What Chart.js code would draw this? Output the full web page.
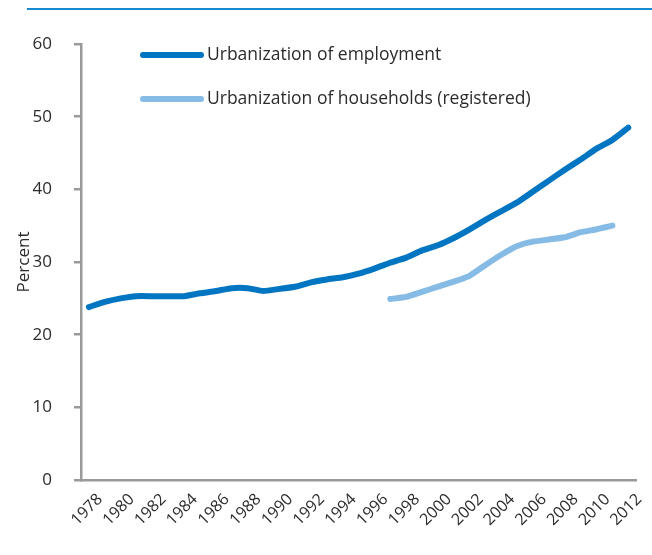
<!DOCTYPE html>
<html>
<head>
<meta charset="utf-8">
<script src="https://cdn.jsdelivr.net/npm/chart.js@4/dist/chart.umd.min.js"></script>
<style>
  html, body { margin: 0; padding: 0; background: #fff; }
  #wrap { width: 652px; height: 555px; position: relative; }
</style>
</head>
<body>
<div id="wrap"><canvas id="c" width="652" height="555"></canvas></div>
<script>
const years = ["1978","1979","1980","1981","1982","1983","1984","1985","1986","1987","1988","1989","1990","1991","1992","1993","1994","1995","1996","1997","1998","1999","2000","2001","2002","2003","2004","2005","2006","2007","2008","2009","2010","2011","2012"];
const employment = [23.8,24.5,25.0,25.3,25.3,25.3,25.3,25.7,26.0,26.4,26.4,26.0,26.3,26.6,27.2,27.6,27.9,28.4,29.1,29.9,30.6,31.6,32.3,33.3,34.5,35.8,37.0,38.2,39.7,41.2,42.7,44.1,45.6,46.8,48.5];
const households = [null,null,null,null,null,null,null,null,null,null,null,null,null,null,null,null,null,null,null,24.9,25.2,25.9,26.6,27.3,28.1,29.6,31.0,32.2,32.8,33.1,33.4,34.1,34.5,35.0,null];
const seriesNames = ["Urbanization of employment", "Urbanization of households (registered)"];
const yTicks = [0,10,20,30,40,50,60];
const yTitle = "Percent";

const FONT = "'Open Sans', sans-serif";
const darkBlue = "rgb(0,117,194)";
const lightBlue = "rgb(133,187,229)";
const axisGray = "#9a9a9c";
const textColor = "#2b2b2b";

const decor = {
  id: 'decor',
  afterDraw(chart) {
    const ctx = chart.ctx;
    ctx.save();
    ctx.strokeStyle = "rgb(24,138,210)";
    ctx.lineWidth = 2;
    ctx.beginPath();
    ctx.moveTo(27, 9);
    ctx.lineTo(652, 9);
    ctx.stroke();
    const items = chart.data.datasets;
    const ys = [55, 99];
    items.forEach((ds, i) => {
      ctx.strokeStyle = ds.borderColor;
      ctx.lineWidth = 6;
      ctx.lineCap = 'round';
      ctx.beginPath();
      ctx.moveTo(143, ys[i]);
      ctx.lineTo(201, ys[i]);
      ctx.stroke();
      ctx.fillStyle = textColor;
      ctx.font = "17.5px " + FONT;
      ctx.textBaseline = 'middle';
      ctx.textAlign = 'left';
      ctx.fillText(ds.label, 207, ys[i]);
    });
    ctx.restore();
  }
};

new Chart(document.getElementById('c'), {
  type: 'line',
  data: {
    labels: years,
    datasets: [
      { label: seriesNames[0], data: employment, borderColor: darkBlue, backgroundColor: darkBlue,
        borderWidth: 6, pointRadius: 0, tension: 0.15, borderCapStyle: 'round', borderJoinStyle: 'round', spanGaps: false },
      { label: seriesNames[1], data: households, borderColor: lightBlue, backgroundColor: lightBlue,
        borderWidth: 6, pointRadius: 0, tension: 0.15, borderCapStyle: 'round', borderJoinStyle: 'round', spanGaps: false }
    ]
  },
  options: {
    responsive: false,
    animation: false,
    devicePixelRatio: 1,
    layout: { padding: { left: 0, right: 12, top: 44, bottom: 0 } },
    plugins: { legend: { display: false }, tooltip: { enabled: false } },
    scales: {
      x: {
        type: 'category',
        offset: true,
        grid: { display: false, drawTicks: false },
        border: { display: true, color: axisGray, width: 2.5 },
        ticks: {
          autoSkip: false, minRotation: 45, maxRotation: 45,
          color: textColor, font: { family: FONT, size: 16 }, padding: 10, labelOffset: 11,
          callback: function(v, i) { return i % 2 === 0 ? years[i] : ''; }
        },
        afterFit(scale) { scale.height = 75; }
      },
      y: {
        min: 0, max: 60,
        afterBuildTicks(scale) { scale.ticks = yTicks.map(v => ({ value: v })); },
        grid: { display: true, drawOnChartArea: false, drawTicks: true, tickLength: 7, color: axisGray, lineWidth: 2.5 },
        border: { display: true, color: axisGray, width: 2.5 },
        ticks: { color: textColor, font: { family: FONT, size: 17 }, padding: 22 },
        title: { display: true, text: yTitle, color: textColor, font: { family: FONT, size: 17 }, padding: { top: 14, bottom: 0 } },
        afterFit(scale) { scale.width = 81; }
      }
    }
  },
  plugins: [decor]
});
</script>
</body>
</html>
